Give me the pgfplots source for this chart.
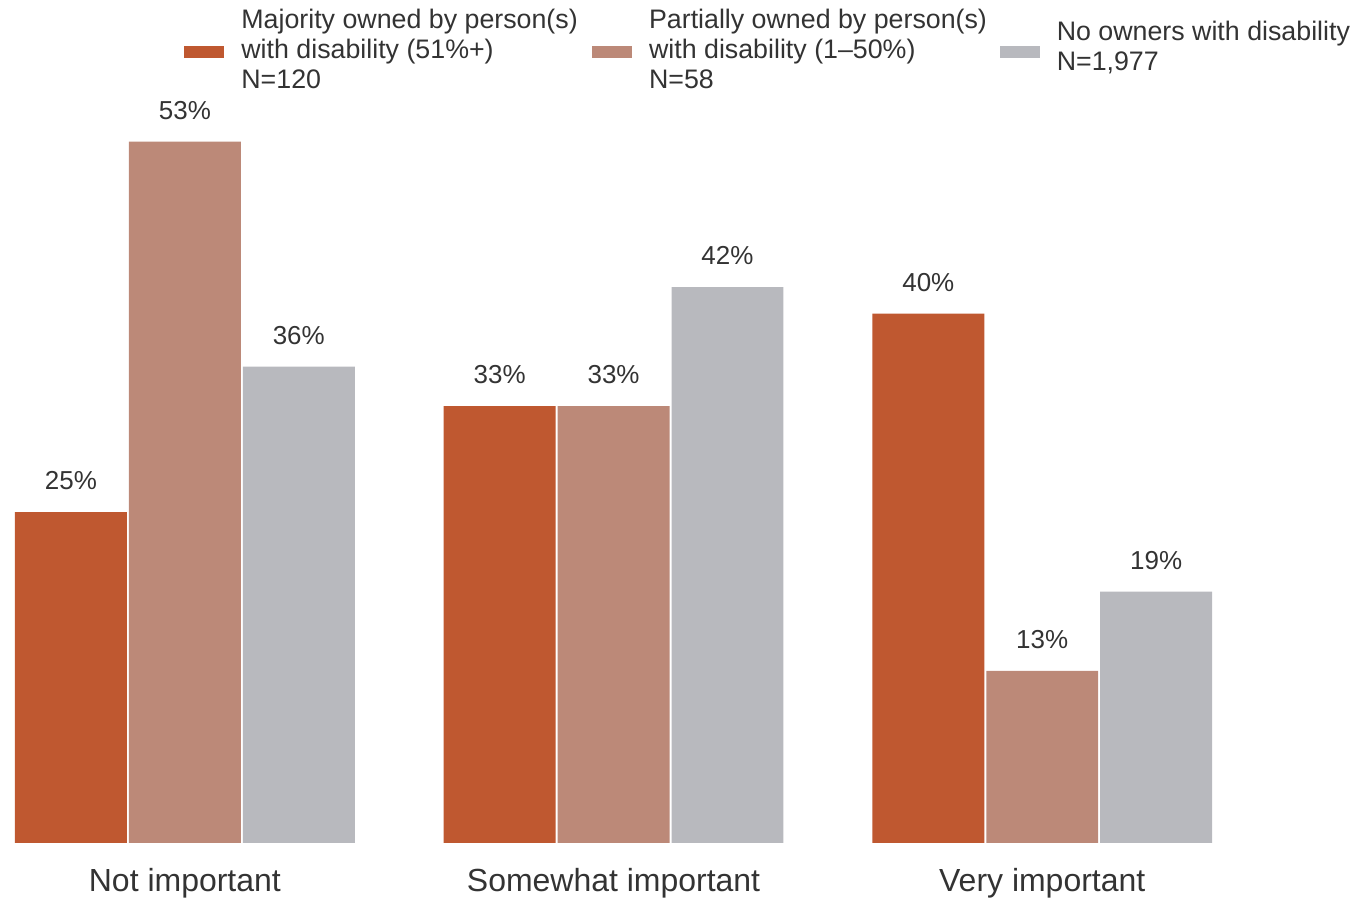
\documentclass[border=0pt]{standalone}
\usepackage{pgfplots}
\pgfplotsset{compat=1.18}
\usepackage{fontspec}
\setmainfont{Liberation Sans}

\definecolor{majority}{HTML}{BF5830}
\definecolor{partial}{HTML}{BC8978}
\definecolor{noowner}{HTML}{B8B9BE}
\definecolor{txt}{HTML}{333333}

\begin{document}
\begin{tikzpicture}[font=\fontsize{13.4}{15}\selectfont, text=txt]
\begin{axis}[
    scale only axis,
    width=599.5pt, height=351pt,
    ybar=1pt, bar width=56pt,
    legend image code/.code={\fill[#1] (0pt,-11pt) rectangle (20pt,-5pt);},
    ymin=0, ymax=53,
    xmin=-0.3963, xmax=2.3986,
    axis line style={draw=none},
    ytick=\empty,
    xtick={0,1,2},
    xticklabels={Not important, Somewhat important, Very important},
    xticklabel style={font=\fontsize{16}{19}\selectfont, yshift=-9pt},
    major tick length=0pt,
    clip=false,
    nodes near coords={\pgfmathprintnumber{\pgfplotspointmeta}\%},
    nodes near coords style={yshift=7.5pt, font=\fontsize{13}{15}\selectfont},
    /pgf/number format/assume math mode=true,
    legend style={draw=none, fill=none, at={(0.1361,1.2023)}, anchor=north west,
        legend columns=3, cells={anchor=west},
        /tikz/every odd column/.style={column sep=6.5pt},
        /tikz/every even column/.style={column sep=1.5pt},
        font=\fontsize{13.4}{15}\selectfont},
]
\addplot[fill=majority, draw=none] coordinates {(0,25) (1,33) (2,40)};
\addplot[fill=partial, draw=none] coordinates {(0,53) (1,33) (2,13)};
\addplot[fill=noowner, draw=none] coordinates {(0,36) (1,42) (2,19)};
\legend{
  {\begin{tabular}{@{}p{172pt}@{}}Majority owned by person(s)\\with disability (51\%+)\\N=120\end{tabular}},
  {\begin{tabular}{@{}p{172pt}@{}}Partially owned by person(s)\\with disability (1--50\%)\\N=58\end{tabular}},
  {\raisebox{-4pt}{\begin{tabular}{@{}l@{}}No owners with disability\\N=1,977\end{tabular}}}
}
\end{axis}
% a little white margin on the left, as in the reference
\path ([xshift=-7.5pt]current axis.south west) rectangle (current axis.south west);
\end{tikzpicture}
\end{document}
